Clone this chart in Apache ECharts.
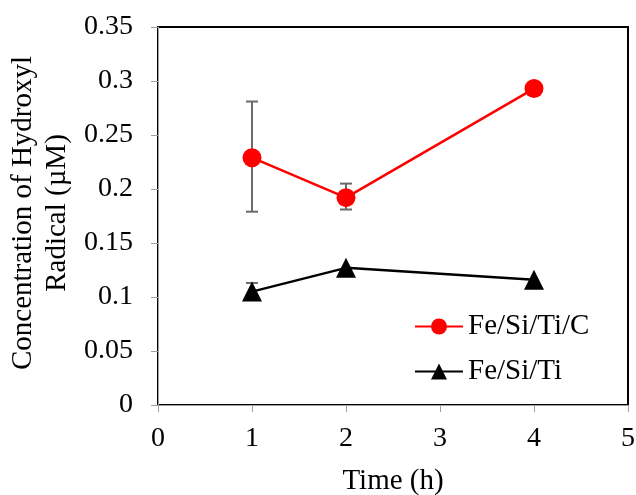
<!DOCTYPE html>
<html>
<head>
<meta charset="utf-8">
<script src="https://cdn.jsdelivr.net/npm/echarts@6/dist/echarts.min.js"></script>
<style>
  html, body { margin: 0; padding: 0; background: #fff; }
  #chart { width: 636px; height: 495px; }
</style>
</head>
<body>
<div id="chart"></div>
<script>
const times = [1, 2, 4];
const tiC = [0.229, 0.192, 0.293];
const tiCLow = [0.179, 0.181, null];
const tiCHigh = [0.281, 0.205, null];
const ti = [0.105, 0.127, 0.116];
const tiLow = [0.098, null, null];
const tiHigh = [0.113, null, null];

const font = "Liberation Serif";

const errorData = (lo, hi) =>
  times.map((t, i) => [t, lo[i], hi[i]]).filter((d) => d[1] != null);

const errorBars = (data) => ({
  type: "custom",
  data: data,
  z: 1,
  silent: true,
  renderItem: (params, api) => {
    const x = api.value(0);
    const lo = api.coord([x, api.value(1)]);
    const hi = api.coord([x, api.value(2)]);
    const w = 6;
    const style = { stroke: "#6b6b6b", lineWidth: 2 };
    return {
      type: "group",
      children: [
        { type: "line", shape: { x1: lo[0], y1: lo[1], x2: hi[0], y2: hi[1] }, style },
        { type: "line", shape: { x1: hi[0] - w, y1: hi[1], x2: hi[0] + w, y2: hi[1] }, style },
        { type: "line", shape: { x1: lo[0] - w, y1: lo[1], x2: lo[0] + w, y2: lo[1] }, style },
      ],
    };
  },
});

const chart = echarts.init(document.getElementById("chart"));

chart.setOption({
  animation: false,
  grid: {
    left: 158, right: 8, top: 27, bottom: 90,
    outerBoundsMode: "none",
    show: true, borderColor: "#000", borderWidth: 2, backgroundColor: "#fff",
  },
  legend: {
    left: 409, top: 307,
    orient: "vertical",
    itemGap: 16,
    itemWidth: 48, itemHeight: 20,
    textStyle: { fontFamily: font, fontSize: 29, color: "#000" },
    data: ["Fe/Si/Ti/C", "Fe/Si/Ti"],
  },
  xAxis: {
    type: "value",
    min: 0, max: 5, interval: 1,
    name: "Time (h)",
    nameLocation: "middle",
    nameGap: 62,
    nameTextStyle: { fontFamily: font, fontSize: 29, color: "#000" },
    axisLine: { show: true, lineStyle: { color: "#a0a0a0", width: 1 } },
    axisTick: { show: true, length: 7, lineStyle: { color: "#a0a0a0" } },
    axisLabel: { fontFamily: font, fontSize: 28, color: "#000", margin: 20 },
    splitLine: { show: false },
  },
  yAxis: {
    type: "value",
    min: 0, max: 0.35, interval: 0.05,
    axisLine: { show: true, lineStyle: { color: "#a0a0a0", width: 1 } },
    axisTick: { show: true, length: 7, lineStyle: { color: "#a0a0a0" } },
    axisLabel: { fontFamily: font, fontSize: 28, color: "#000", margin: 25 },
    splitLine: { show: false },
  },
  graphic: [
    {
      type: "text",
      x: 40, y: 213,
      rotation: Math.PI / 2,
      style: {
        text: "Concentration of Hydroxyl\nRadical (µM)",
        font: "29px " + font,
        fill: "#000",
        align: "center",
        verticalAlign: "middle",
        lineHeight: 34,
      },
    },
  ],
  series: [
    errorBars(errorData(tiCLow, tiCHigh)),
    errorBars(errorData(tiLow, tiHigh)),
    {
      name: "Fe/Si/Ti/C",
      type: "line",
      data: times.map((t, i) => [t, tiC[i]]),
      symbol: "circle",
      symbolSize: 19,
      z: 3,
      itemStyle: { color: "#ff0000" },
      lineStyle: { color: "#ff0000", width: 2.5 },
    },
    {
      name: "Fe/Si/Ti",
      type: "line",
      data: times.map((t, i) => [t, ti[i]]),
      symbol: "triangle",
      symbolSize: 20,
      z: 3,
      itemStyle: { color: "#000" },
      lineStyle: { color: "#000", width: 2.5 },
    },
  ],
});
</script>
</body>
</html>
